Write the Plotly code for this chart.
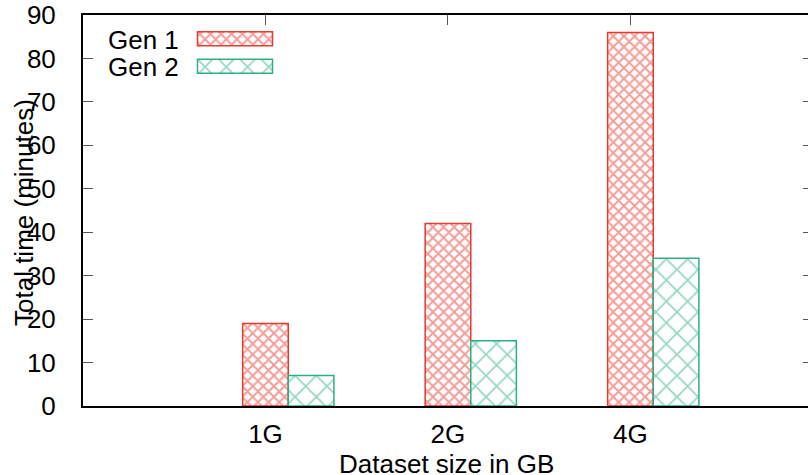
import plotly.graph_objects as go

# ---- data ----
sizes = ['1G', '2G', '4G']
gen1 = [19, 42, 86]
gen2 = [7, 15, 34]
series_names = ['Gen 1', 'Gen 2']
y_ticks = list(range(0, 91, 10))
x_title = 'Dataset size in GB'
y_title = 'Total time (minutes)'

# ---- layout constants ----
W, H = 808, 475
L, R, T, B = 83, 0, 15, 69
PW = W - L - R
PH = H - T - B

RED = '#e8392e'
GREEN = '#2fae86'
FONT = 'Liberation Sans, Arial, sans-serif'
FS = 26
BW = 0.25
XR = [-1.0, 2.973]


def px_x(px):
    return (px - L) / PW


def px_y(py):
    return (H - B - py) / PH


def marker(col, size, sol):
    return dict(color='white', line=dict(color=col, width=1.5),
                pattern=dict(shape='x', size=size, solidity=sol,
                             fgcolor=col, bgcolor='white'))


red_m = marker(RED, 7.5, 0.45)
green_m = marker(GREEN, 15, 0.22)

fig = go.Figure()
fig.add_bar(x=sizes, y=gen1, width=BW, offset=-BW / 2, marker=red_m,
            name=series_names[0], showlegend=False, hoverinfo='skip')
fig.add_bar(x=sizes, y=gen2, width=BW, offset=BW / 2, marker=green_m,
            name=series_names[1], showlegend=False, hoverinfo='skip')

# helper traces so overlay axes are rendered
fig.add_scatter(x=[None], y=[None], xaxis='x2', yaxis='y', showlegend=False, hoverinfo='skip')
fig.add_scatter(x=[None], y=[None], xaxis='x', yaxis='y2', showlegend=False, hoverinfo='skip')

# legend samples drawn as single bars in tiny axes
legend_boxes = [(197.5, 272.5, 31.7, 45.7), (197.5, 272.5, 59.3, 73.3)]
legend_markers = [red_m, green_m]
pad = 3
annotations = []
for i, ((x0, x1, y0, y1), m) in enumerate(zip(legend_boxes, legend_markers)):
    k = i + 3
    wpx, hpx = x1 - x0, y1 - y0
    fig.add_bar(x=[1], y=[0], base=0, width=1, orientation='h', marker=m,
                xaxis='x%d' % k, yaxis='y%d' % k, showlegend=False, hoverinfo='skip')
    fig.layout['xaxis%d' % k] = dict(domain=[px_x(x0 - pad), px_x(x1 + pad)],
                                     range=[-pad / wpx, 1 + pad / wpx], visible=False,
                                     anchor='y%d' % k, fixedrange=True)
    fig.layout['yaxis%d' % k] = dict(domain=[px_y(y1 + pad), px_y(y0 - pad)],
                                     range=[-0.5 - pad / hpx, 0.5 + pad / hpx], visible=False,
                                     anchor='x%d' % k, fixedrange=True)
    annotations.append(dict(text=series_names[i], xref='paper', yref='paper',
                            x=px_x(181), y=px_y((y0 + y1) / 2 + 1), xanchor='right',
                            yanchor='middle', showarrow=False,
                            font=dict(family=FONT, size=FS, color='black')))

annotations.append(dict(text=x_title, xref='paper', yref='paper', x=px_x(446),
                        y=px_y(464), xanchor='center', yanchor='middle', showarrow=False,
                        font=dict(family=FONT, size=FS, color='black')))
annotations.append(dict(text=y_title, xref='paper', yref='paper', x=px_x(24),
                        y=px_y(213), xanchor='center', yanchor='middle', showarrow=False,
                        textangle=-90, font=dict(family=FONT, size=FS, color='black')))

tickfont = dict(family=FONT, size=FS, color='black')
fig.update_layout(
    width=W, height=H, margin=dict(l=L, r=R, t=T, b=B, pad=0),
    paper_bgcolor='white', plot_bgcolor='rgba(0,0,0,0)',
    barmode='overlay', showlegend=False,
    annotations=annotations,
    xaxis=dict(type='category', range=XR, showgrid=False, zeroline=False,
               showline=True, linecolor='black', linewidth=2, mirror=True,
               ticks='', tickfont=tickfont, ticklabelstandoff=4, fixedrange=True),
    xaxis2=dict(overlaying='x', anchor='y', side='top', type='linear', range=XR,
                tickvals=list(range(len(sizes))), ticks='inside', ticklen=10,
                tickcolor='#555', tickwidth=1, showticklabels=False,
                showgrid=False, zeroline=False, showline=False, fixedrange=True),
    yaxis=dict(range=[0, 90], tickvals=y_ticks, ticks='inside', ticklen=10,
               tickcolor='#555', tickwidth=1, showgrid=False, zeroline=False,
               showline=True, linecolor='black', linewidth=2, mirror=False,
               tickfont=tickfont, ticklabelstandoff=20, fixedrange=True),
    yaxis2=dict(overlaying='y', anchor='x', side='right', range=[0, 90],
                tickvals=y_ticks, ticks='inside', ticklen=5, tickcolor='#555',
                tickwidth=1, showticklabels=False, showgrid=False, zeroline=False,
                showline=False, fixedrange=True),
)

fig.write_html('out.html', config={'displayModeBar': False},
               post_script="document.body.style.margin='0';")
